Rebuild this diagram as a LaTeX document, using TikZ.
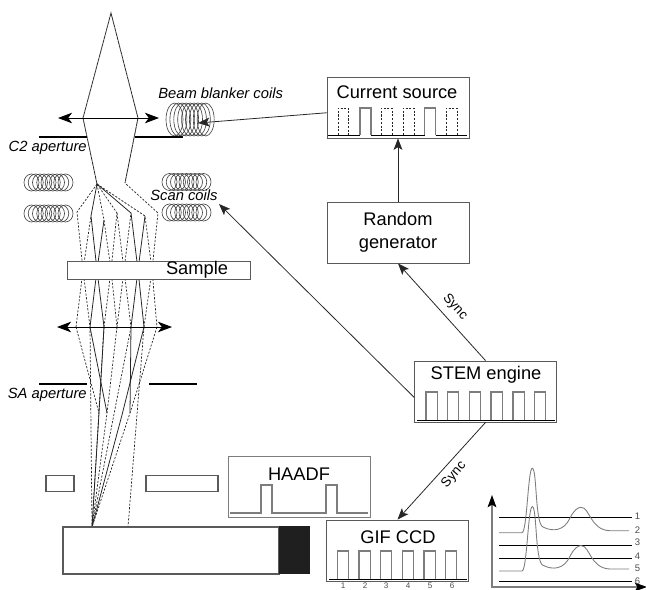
\documentclass[tikz,border=0pt]{standalone}
\usepackage{fontspec}
\setmainfont{Liberation Sans}
\usepackage{tikz}
\usetikzlibrary{arrows.meta,calc}
\definecolor{boxgray}{RGB}{90,90,90}
\definecolor{tracegray}{RGB}{125,125,125}
\tikzset{
  panel/.style={rectangle, draw=boxgray, fill=white, line width=0.5pt, minimum width=2.84cm, minimum height=1.22cm, inner sep=0pt},
  paneltitle/.style={font=\fontsize{10.4}{12}\selectfont, inner sep=0pt},
  note/.style={font=\itshape\fontsize{8.4}{10}\selectfont, inner sep=0pt},
  synclabel/.style={font=\fontsize{7.6}{9}\selectfont, inner sep=0pt},
  tinylabel/.style={font=\fontsize{4.6}{5}\selectfont, text=black!70, inner sep=0pt},
  signal/.style={tracegray, line width=0.7pt},
  baseline/.style={black, line width=0.4pt},
  feed/.style={-{Stealth[length=6.5pt,width=5pt,inset=1.5pt]}, black!85, line width=0.45pt},
  lensaxis/.style={{Stealth[length=8pt,width=6pt,inset=2.2pt]}-{Stealth[length=8pt,width=6pt,inset=2.2pt]}, black, line width=0.5pt},
  aperture/.style={black, line width=1.2pt},
  coilturn/.style={black!75, line width=0.35pt},
  rayfull/.style={black!85, line width=0.45pt},
  raydash/.style={black!85, line width=0.4pt, dash pattern=on 1.2pt off 0.9pt},
  rayfine/.style={black!85, line width=0.45pt, dash pattern=on 2.4pt off 0.25pt},
}
\begin{document}
\begin{tikzpicture}[x=0.02cm,y=-0.02cm]
  \useasboundingbox (0,0) rectangle (646,589);
  % Ray points
  \coordinate (apex) at (111,13);
  \coordinate (lensL) at (83,118);
  \coordinate (lensR) at (138,118);
  \coordinate (pivot) at (97,184);
  \coordinate (pivotR) at (125,183);
  \coordinate (sc1) at (77,212);
  \coordinate (sc2) at (91,216);
  \coordinate (sc3) at (104,220);
  \coordinate (sc4) at (117,213);
  \coordinate (sc5) at (131,213);
  \coordinate (sc6) at (145,216);
  \coordinate (sc7) at (158,213);
  \coordinate (sp1) at (83,270);
  \coordinate (sp2) at (97,270);
  \coordinate (sp3) at (111,270);
  \coordinate (sp4) at (124,270);
  \coordinate (sp5) at (138,270);
  \coordinate (sp6) at (152,270);
  \coordinate (ln1) at (76,327);
  \coordinate (ln2) at (90,327);
  \coordinate (ln3) at (104,327);
  \coordinate (ln4) at (117,327);
  \coordinate (ln5) at (131,327);
  \coordinate (ln6) at (144,327);
  \coordinate (ln7) at (157,327);
  \coordinate (fc1) at (99,413);
  \coordinate (fc2) at (107,413);
  \coordinate (fc3) at (122,415);
  \coordinate (fc4) at (130,413);
  \coordinate (ccdA) at (92,527);
  \coordinate (ccdB) at (128,527);
  % Condenser rays
  \draw[rayfine] (pivot) -- (lensL) -- (apex) -- (lensR) -- (pivotR);
  % Rays above sample
  \draw[raydash] (pivot) -- (sc1) -- (sp1) -- (sc2);
  \draw[rayfull] (sp2) -- (sc2) -- (pivot) -- (sc5) -- (sp5) -- (sc6);
  \draw[rayfull] (sp2) -- (sc3);
  \draw[raydash] (pivot) -- (sc3) -- (sp3) -- (sc4) -- (pivot);
  \draw[raydash] (sc4) -- (sp4) -- (sc5);
  \draw[raydash] (pivot) -- (sc6) -- (sp6) -- (sc7) -- (pivotR);
  % Rays below sample
  \draw[raydash] (ln1) -- (sp1) -- (ln2);
  \draw[rayfull] (ln2) -- (sp2) -- (ln3);
  \draw[raydash] (ln3) -- (sp3) -- (ln4) -- (sp4) -- (ln5);
  \draw[rayfull] (ln5) -- (sp5) -- (ln6);
  \draw[raydash] (ln6) -- (sp6) -- (ln7);
  % Rays below lens
  \draw[raydash] (ln1) -- (fc1);
  \draw[rayfull] (ln3) -- (fc1) -- (ccdA);
  \draw[rayfull] (ln2) -- (fc2);
  \draw[raydash] (ln4) -- (fc2) -- (ccdA);
  \draw[rayfull] (ln6) -- (fc3) -- (ccdA);
  \draw[rayfull] (ln5) -- (fc4);
  \draw[raydash] (ln7) -- (fc4) -- (ccdA);
  \draw[raydash] (ln2) -- (ccdA);
  \draw[raydash] (ln3) -- (ccdA);
  \draw[raydash] (ln5) -- (ccdA);
  \draw[raydash] (ln6) -- ($(ln6)!0.32!(ccdB)$) -- (ccdB) -- (ccdA);
  % Lenses and apertures
  \coordinate (lensA) at (58,118);
  \coordinate (lensB) at (159,118);
  \coordinate (lensC) at (57,327);
  \coordinate (lensD) at (172,327);
  \draw[lensaxis] (lensA) -- (lensB);
  \draw[lensaxis] (lensC) -- (lensD);
  \draw[aperture] (39,137) -- (87,137);
  \draw[aperture] (135,137) -- (183,137);
  \draw[aperture] (39,384) -- (87,384);
  \draw[aperture] (149,384) -- (197,384);
  % Coils
  \foreach \cx/\cy/\rx/\ry/\st in {174.5/119.5/8.5/16.5/3.9, 31.5/182.5/7.5/8.5/4.25, 31.5/213.5/7.5/8.5/4.25, 169.5/182/7.5/8.5/4.25, 169.5/212.5/7.5/8.5/4.25}
    \foreach \i in {0,...,8}
      \draw[coilturn] (\cx+\i*\st,\cy) ellipse [x radius=\rx, y radius=\ry];
  % Sample and detectors
  \node[rectangle, draw=boxgray, fill=white, line width=0.5pt, minimum width=3.66cm, minimum height=0.36cm, inner sep=0pt] (sample) at (158.5,270) {};
  \node[paneltitle] (sampletext) at (197,270) {Sample};
  \node[rectangle, draw=boxgray, line width=0.7pt, minimum width=0.56cm, minimum height=0.31cm] (slitL) at (60,483.5) {};
  \node[rectangle, draw=boxgray, line width=0.7pt, minimum width=1.44cm, minimum height=0.31cm] (slitR) at (182,483.5) {};
  \node[rectangle, draw=boxgray, fill=white, line width=0.6pt, minimum width=4.32cm, minimum height=0.94cm] (screen) at (171,550.5) {};
  \node[rectangle, fill=black!88, minimum width=0.62cm, minimum height=0.96cm, inner sep=0pt] (beamstop) at (294.5,550) {};
  % Labels
  \node[note, anchor=west] (blankertext) at (158,93) {Beam blanker coils};
  \node[note, anchor=east] (c2text) at (87,148) {C2 aperture};
  \node[note, anchor=west] (scantext) at (150,195) {Scan coils};
  \node[note, anchor=east] (satext) at (87,395) {SA aperture};
  % Panels
  \node[panel] (source) at (398,107.5) {};
  \node[panel, font=\fontsize{10.4}{13}\selectfont, align=center] (random) at (398,232.5) {Random\\generator};
  \node[panel] (stem) at (485.5,391.5) {};
  \node[panel, draw=tracegray] (haadf) at (299.5,486.5) {};
  \node[panel] (gif) at (397.5,550.5) {};
  \node[paneltitle] (sourcetext) at (397,92) {Current source};
  \node[paneltitle] (stemtext) at (486,375) {STEM engine};
  \node[paneltitle] (haadftext) at (299,474) {HAADF};
  \node[paneltitle] (giftext) at (398,537) {GIF CCD};
  % Current source trace
  \draw[baseline] (328,135) -- (360,135) (371,135) -- (424.5,135) (435.5,135) -- (467,135);
  \draw[signal] (360,135) -- (360,108) -- (371,108) -- (371,135);
  \draw[signal] (424.5,135) -- (424.5,108) -- (435.5,108) -- (435.5,135);
  \draw[raydash] (338,135) -- (338,108) -- (348.5,108) -- (348.5,135);
  \draw[raydash] (381,135) -- (381,108) -- (392,108) -- (392,135);
  \draw[raydash] (403,135) -- (403,108) -- (414,108) -- (414,135);
  \draw[raydash] (446,135) -- (446,108) -- (457,108) -- (457,135);
  % STEM trace
  \draw[baseline] (417,420) -- (555,420);
  \foreach \px in {426,447.5,469.5,491,513,534.5}
    \draw[signal] (\px,420) -- (\px,392) -- (\px+11.3,392) -- (\px+11.3,420);
  % HAADF trace
  \draw[signal] (230,513) -- (261,513) -- (261,485) -- (272,485) -- (272,513) -- (326,513) -- (326,485) -- (337,485) -- (337,513) -- (368,513);
  % GIF trace
  \draw[baseline] (329,579) -- (467,579);
  \foreach \px in {337.5,359,380.5,402.5,424,445.5}
    \draw[signal] (\px,579) -- (\px,551) -- (\px+11.2,551) -- (\px+11.2,579);
  \node[tinylabel] (gif1) at (343,585.5) {1};
  \node[tinylabel] (gif2) at (365,585.5) {2};
  \node[tinylabel] (gif3) at (386,585.5) {3};
  \node[tinylabel] (gif4) at (408,585.5) {4};
  \node[tinylabel] (gif5) at (430,585.5) {5};
  \node[tinylabel] (gif6) at (452,585.5) {6};
  % Connectors
  \coordinate (blankertip) at (198,123);
  \coordinate (scantip) at (219,204);
  \draw[feed] ([yshift=-3pt]source.west) -- (blankertip);
  \draw[feed] (random.north) -- (source.south);
  \draw[feed] (stem.north) -- (random.south);
  \draw[feed] ([yshift=-3.3pt]stem.west) -- (scantip);
  \draw[feed] (stem.south) -- (gif.north);
  \node[synclabel, rotate=-48] (syncA) at (455,307) {Sync};
  \node[synclabel, rotate=49] (syncB) at (454,475) {Sync};
  % Spectrum plot
  \coordinate (plotA) at (492,495);
  \coordinate (plotB) at (492,587);
  \coordinate (plotC) at (647,587);
  \draw[signal, line width=0.6pt, {Stealth[length=7pt,width=5pt,inset=1.5pt,black]}-{Stealth[length=7pt,width=5pt,inset=1.5pt,black]}] (plotA) -- (plotB) -- (plotC);
  \foreach \ly in {517,545,558,581}
    \draw[black, line width=0.45pt] (499,\ly) -- (632,\ly);
  \foreach \oy in {0,38.3}
    \draw[signal, line width=0.5pt] (499,532.7+\oy) -- (522,532.7+\oy) .. controls (527,532.7+\oy) and (528,468.3+\oy) .. (532.3,468.3+\oy)
      .. controls (537,468.3+\oy) and (535,524+\oy) .. (543,527+\oy) .. controls (553,532+\oy) and (564,531+\oy) .. (570,518+\oy)
      .. controls (574,510+\oy) and (578,507.3+\oy) .. (581,507.3+\oy) .. controls (590,507.3+\oy) and (590,530+\oy) .. (610,530.7+\oy) -- (629,530.7+\oy);
  \node[tinylabel, font=\fontsize{5.4}{6}\selectfont] (line1) at (637.5,516) {1};
  \node[tinylabel, font=\fontsize{5.4}{6}\selectfont] (line2) at (637.5,530) {2};
  \node[tinylabel, font=\fontsize{5.4}{6}\selectfont] (line3) at (637.5,542) {3};
  \node[tinylabel, font=\fontsize{5.4}{6}\selectfont] (line4) at (637.5,556) {4};
  \node[tinylabel, font=\fontsize{5.4}{6}\selectfont] (line5) at (637.5,568) {5};
  \node[tinylabel, font=\fontsize{5.4}{6}\selectfont] (line6) at (637.5,581.5) {6};
\end{tikzpicture}
\end{document}
